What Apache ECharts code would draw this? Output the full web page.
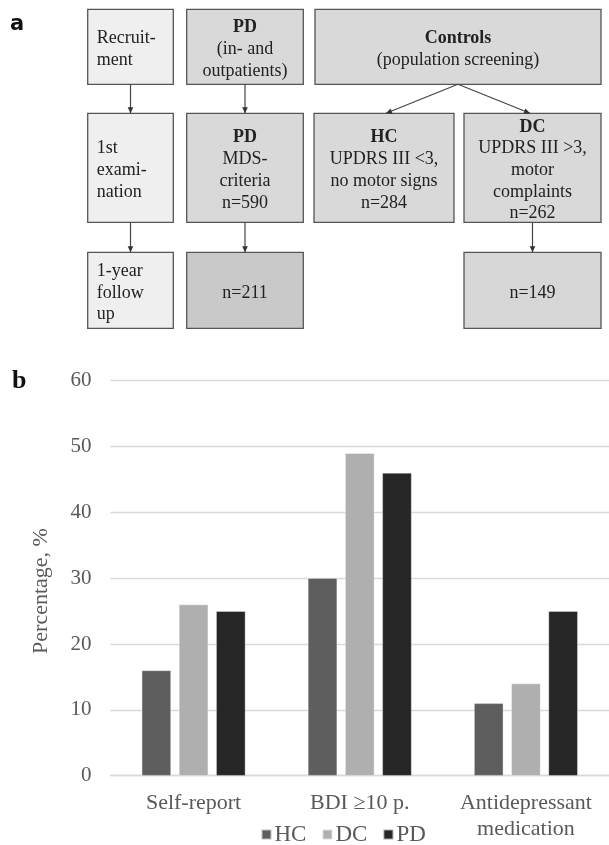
<!DOCTYPE html>
<html>
<head>
<meta charset="utf-8">
<script src="https://cdn.jsdelivr.net/npm/echarts@6/dist/echarts.min.js"></script>
<style>
html,body{margin:0;padding:0;background:#fff;}
#chart{width:609px;height:845px;}
</style>
</head>
<body>
<div id="chart"></div>
<script>
// ---- Panel b data ----
const categories = ['Self-report', 'BDI \u226510 p.', 'Antidepressant\nmedication'];
const seriesNames = ['HC', 'DC', 'PD'];
const hcValues = [16, 30, 11];
const dcValues = [26, 49, 14];
const pdValues = [25, 46, 25];
const yTicks = [0, 10, 20, 30, 40, 50, 60];
const yAxisTitle = 'Percentage, %';

// ---- Panel a (flowchart) content ----
const flowTexts = [
  'Recruit-\nment',
  '{b|PD}\n(in- and\noutpatients)',
  '{b|Controls}\n(population screening)',
  '1st\nexami-\nnation',
  '{b|PD}\nMDS-\ncriteria\nn=590',
  '{b|HC}\nUPDRS III <3,\nno motor signs\nn=284',
  '{b|DC}\nUPDRS III >3,\nmotor\ncomplaints\nn=262',
  '1-year\nfollow\nup',
  'n=211',
  'n=149'
];
const flowLinks = [[0,3],[3,7],[1,4],[4,8],[2,5],[2,6],[6,9]];

// ---- layout (not data) ----
const colX = [[87.7,173.3],[186.7,303.3],[314,454],[464,601]];
const rowY = [[9.3,84.3],[113.3,222.3],[252.3,328.3]];
// [colStart, colEnd, row, fill, leftAligned]
const boxLayout = [
  [0,0,0,'#efefef',true],
  [1,1,0,'#d9d9d9',false],
  [2,3,0,'#d9d9d9',false],
  [0,0,1,'#efefef',true],
  [1,1,1,'#d9d9d9',false],
  [2,2,1,'#d9d9d9',false],
  [3,3,1,'#d9d9d9',false],
  [0,0,2,'#efefef',true],
  [1,1,2,'#c9c9c9',false],
  [3,3,2,'#d7d7d7',false]
];
const serif = '"Liberation Serif","Times New Roman",serif';
const boxes = boxLayout.map(function (b) {
  const x0 = colX[b[0]][0] + (b[0] === 2 && b[1] === 3 ? 1 : 0), x1 = colX[b[1]][1];
  const y0 = rowY[b[2]][0], y1 = rowY[b[2]][1];
  return {x0:x0,x1:x1,y0:y0,y1:y1,fill:b[3],left:b[4],cx:(x0+x1)/2,cy:(y0+y1)/2};
});

const graphics = [];
boxes.forEach(function (b, i) {
  graphics.push({
    type:'rect',
    shape:{x:b.x0,y:b.y0,width:b.x1-b.x0,height:b.y1-b.y0},
    style:{fill:b.fill,stroke:'#555',lineWidth:1.3}
  });
  graphics.push({
    type:'text',
    x: b.left ? b.x0 + 9 : b.cx,
    y: b.cy + 2.5,
    style:{
      text: flowTexts[i],
      fontFamily: serif, fontSize: 18, lineHeight: 21.7,
      fill:'#222',
      align: b.left ? 'left' : 'center',
      verticalAlign:'middle',
      rich:{b:{fontWeight:'bold',fontFamily:serif,fontSize:18,lineHeight:21.7,fill:'#222'}}
    }
  });
});
function arrow(x1,y1,x2,y2){
  graphics.push({type:'line',shape:{x1:x1,y1:y1,x2:x2,y2:y2},style:{stroke:'#444',lineWidth:1.2}});
  const L=6, W=2.8;
  const dx=x2-x1, dy=y2-y1, len=Math.sqrt(dx*dx+dy*dy);
  const ux=dx/len, uy=dy/len;
  const bx=x2-ux*L, by=y2-uy*L;
  graphics.push({type:'polygon',shape:{points:[[x2,y2],[bx-uy*W,by+ux*W],[bx+uy*W,by-ux*W]]},style:{fill:'#333'}});
}
flowLinks.forEach(function (l) {
  const a = boxes[l[0]], c = boxes[l[1]];
  if (l[0] === 2) {
    arrow(a.cx, a.y1, l[1] === 5 ? c.cx + 2 : c.cx - 2.5, c.y0);
  } else {
    arrow(c.cx, a.y1, c.cx, c.y0);
  }
});
graphics.push({type:'text',x:10,y:14,style:{text:'a',fontFamily:'"DejaVu Sans",sans-serif',fontWeight:'bold',fontSize:21,fill:'#111'}});
graphics.push({type:'text',x:12,y:381,style:{text:'b',fontFamily:serif,fontWeight:'bold',fontSize:26,fill:'#111',verticalAlign:'middle'}});
graphics.push({type:'text',x:41,y:591,rotation:Math.PI/2,style:{text:yAxisTitle,fontFamily:serif,fontSize:22,fill:'#595959',align:'center',verticalAlign:'middle'}});

const colors = ['#5e5e5e','#afafaf','#262626'];
const values = [hcValues, dcValues, pdValues];

const chart = echarts.init(document.getElementById('chart'));
chart.setOption({
  animation:false,
  backgroundColor:'#fff',
  textStyle:{fontFamily:serif},
  grid:{left:110.5, top:380.7, width:503, height:395, containLabel:false},
  legend:{
    data:seriesNames, left:260.5, top:823, padding:0, itemWidth:10, itemHeight:10, itemGap:15,
    icon:'rect',
    textStyle:{fontFamily:serif,fontSize:23,color:'#595959',padding:[0,0,0,-2]}
  },
  xAxis:{
    type:'category', data:categories,
    axisLine:{lineStyle:{color:'#d9d9d9',width:1.3}},
    axisTick:{show:false},
    axisLabel:{fontFamily:serif,fontSize:22,color:'#595959',margin:15,lineHeight:25.6,verticalAlign:'top',interval:0}
  },
  yAxis:{
    type:'value', min:yTicks[0], max:yTicks[yTicks.length-1], interval:yTicks[1]-yTicks[0],
    axisLine:{show:false}, axisTick:{show:false},
    splitLine:{lineStyle:{color:'#d9d9d9',width:1.3}},
    axisLabel:{fontFamily:serif,fontSize:21,color:'#595959',margin:19}
  },
  series: seriesNames.map(function (n, i) {
    return {
      name:n, type:'bar', data:values[i], barWidth:29.3, barGap:'27%',
      itemStyle:{color:colors[i], borderColor:'rgba(255,255,255,0.6)', borderWidth:0.6}
    };
  }),
  graphic:{elements:graphics}
});
</script>
</body>
</html>
